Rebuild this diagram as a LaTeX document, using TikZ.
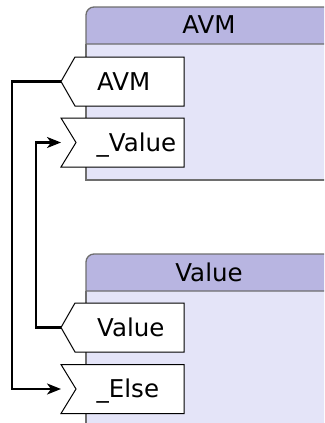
\documentclass[tikz,border=0pt]{standalone}
\usepackage{fontspec}
\setmainfont{DejaVu Sans}
\usetikzlibrary{arrows.meta}
\definecolor{hdr}{HTML}{B8B5E1}
\definecolor{bodyc}{HTML}{E4E4F8}
\definecolor{edge}{HTML}{6E6E6E}
\tikzset{
  boxline/.style={draw=edge, line width=1.3pt},
  portshape/.style={draw=black, fill=white, line width=1pt, line join=miter},
  lbl/.style={inner sep=0pt, font=\fontsize{24.5}{29}\selectfont},
  conn/.style={draw=black, line width=2.2pt, -{Stealth[length=14pt,width=11pt,inset=4pt]}},
}
\begin{document}
\begin{tikzpicture}[x=1pt,y=-1pt]
\useasboundingbox (0,0) rectangle (324,423);
\clip (0,0) rectangle (324,423);
% top block AVM
\fill[bodyc] (86,44) rectangle (340,180);
\draw[boxline, fill=hdr] (86,44) -- (86,15) arc[start angle=180,end angle=270,radius=8] -- (340,7) -- (340,44) -- cycle;
\draw[boxline] (86,44) -- (86,180) -- (340,180);
\node[lbl, anchor=base] (avmtitle) at (209,34) {AVM};
% bottom block Value
\fill[bodyc] (86,291) rectangle (340,440);
\draw[boxline, fill=hdr] (86,291) -- (86,262) arc[start angle=180,end angle=270,radius=8] -- (340,254) -- (340,291) -- cycle;
\draw[boxline] (86,291) -- (86,440);
\node[lbl, anchor=base] (valuetitle) at (209,281) {Value};
% ports
\draw[portshape] (61,81.5) -- (75,57) -- (184,57) -- (184,106) -- (75,106) -- cycle;
\coordinate (avmout) at (61,81.5);
\node[lbl, anchor=base west] (avmport) at (97,90) {AVM};
\draw[portshape] (61,118) -- (184,118) -- (184,167) -- (61,167) -- (76,142.5) -- cycle;
\coordinate (valuein) at (61,142.5);
\node[lbl, anchor=base west] (valueinport) at (96.5,151) {\_Value};
\draw[portshape] (61,327.5) -- (75,303) -- (184,303) -- (184,352) -- (75,352) -- cycle;
\coordinate (valueout) at (61,327.5);
\node[lbl, anchor=base west] (valueport) at (97,336) {Value};
\draw[portshape] (61,364.5) -- (184,364.5) -- (184,413.5) -- (61,413.5) -- (76,389) -- cycle;
\coordinate (elsein) at (61,389);
\node[lbl, anchor=base west] (elseport) at (96.5,397.5) {\_Else};
% connectors
\coordinate (c1) at (12,81.5);
\coordinate (c2) at (36,327.5);
\draw[conn] (avmout) -- (c1) |- (elsein);
\draw[conn] (valueout) -- (c2) |- (valuein);
\end{tikzpicture}
\end{document}
